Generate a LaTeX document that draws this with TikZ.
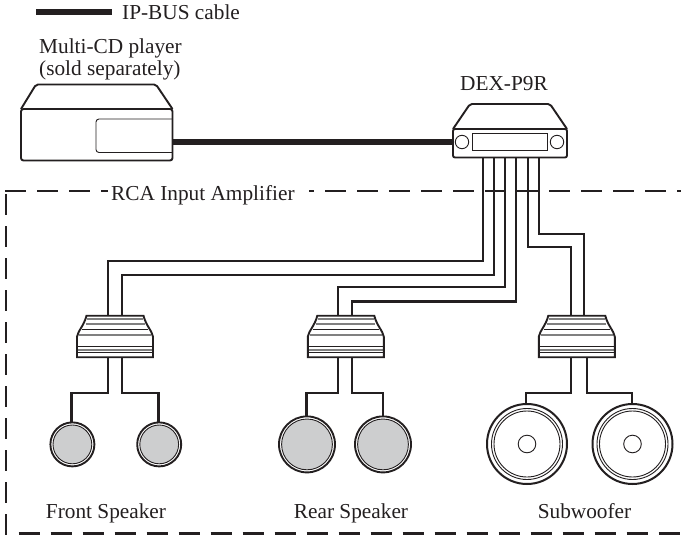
\documentclass[tikz,border=0pt]{standalone}
\usepackage{fontspec}
\setmainfont{Liberation Serif}
\definecolor{ink}{HTML}{231F20}
\definecolor{cone}{HTML}{CDCECF}
\tikzset{
  x=1pt,y=-1pt,
  wire/.style={ink,line width=2.1pt,line join=miter},
  bus/.style={ink,line width=6pt},
  outline/.style={ink,line width=1.9pt,line join=round},
  thin part/.style={ink,line width=0.9pt},
  stripe/.style={black!50,line width=1.5pt},
  stripe dark/.style={ink,line width=0.9pt},
  label/.style={font=\fontsize{21.3}{25}\selectfont,text=ink,inner sep=0pt,anchor=base},
  frame/.style={ink,line width=2pt,dash pattern=on 21pt off 11pt},
  amp/.pic={
    \fill[white] (-28.5,-21) -- (28.5,-21) .. controls (31,-11) and (37,-6) .. (38,0) -- (38,20.5) -- (-38,20.5) -- (-38,0) .. controls (-37,-6) and (-31,-11) .. (-28.5,-21) -- cycle;
    \draw[stripe] (-28,-17.7) -- (28,-17.7);
    \draw[stripe] (-29.5,-12.7) -- (29.5,-12.7);
    \draw[stripe dark] (-33,-7.3) -- (33,-7.3);
    \draw[stripe] (-36,-1.7) -- (36,-1.7);
    \draw[stripe dark] (-37.5,9.3) -- (37.5,9.3);
    \draw[stripe] (-37.5,13.3) -- (37.5,13.3);
    \draw[stripe dark] (-37.5,16) -- (37.5,16);
    \draw[outline,line join=miter] (-28.5,-21) -- (28.5,-21) .. controls (31,-11) and (37,-6) .. (38,0) -- (38,20.5) -- (-38,20.5) -- (-38,0) .. controls (-37,-6) and (-31,-11) .. (-28.5,-21) -- cycle;
  },
}
\begin{document}
\begin{tikzpicture}
\useasboundingbox (0,0) rectangle (681,536);
% dashed frame
\draw[frame] (5,191) -- (681,191);
\draw[frame] (6,194) -- (6,536);
\draw[frame,line width=2.6pt] (18.5,533.5) -- (681,533.5);
\fill[white] (107.5,186) rectangle (309,196);
% labels
\node[label,anchor=base west] (rca) at (111,200) {RCA Input Amplifier};
\coordinate (legA) at (36,12.3);
\coordinate (legB) at (112,12.3);
\draw[bus] (legA) -- (legB);
\node[label,anchor=base west] (legend) at (122,19.3) {IP-BUS cable};
\node[label,anchor=base west] (cdname1) at (39,53.5) {Multi-CD player};
\node[label,anchor=base west] (cdname2) at (39,75.5) {(sold separately)};
\node[label] (dexname) at (504,90.7) {DEX-P9R};
\node[label] (front) at (106,518.3) {Front Speaker};
\node[label] (rear) at (351,518.3) {Rear Speaker};
\node[label] (subw) at (584.5,518.3) {Subwoofer};
% multi-CD player
\draw[outline,rounded corners=2pt] (21,109) -- (36,84.5) -- (156,84.5) -- (172.5,109);
\draw[outline,rounded corners=2.5pt] (21,109) -- (172.5,109) -- (172.5,160.5) -- (21,160.5) -- cycle;
\draw[thin part,rounded corners=3pt] (172.5,119) -- (96,119) -- (96,152.5) -- (172.5,152.5);
\coordinate (cdport) at (173,142);
% head unit
\draw[outline,rounded corners=2pt] (453,129) -- (470,104) -- (550,104) -- (567,129);
\draw[outline,fill=white,rounded corners=2pt] (453,129) -- (567,129) -- (567,157.5) -- (453,157.5) -- cycle;
\draw[thin part] (472,133) rectangle (547,150);
\draw[thin part] (462,142) circle[radius=6.7];
\draw[thin part] (557,142) circle[radius=6.7];
\coordinate (dexport) at (453,142);
\draw[bus] (cdport) -- (dexport);
% wires from the head unit
\coordinate (d1) at (482.7,157.5);
\coordinate (d2) at (494,157.5);
\coordinate (d3) at (504.7,157.5);
\coordinate (d4) at (516,157.5);
\coordinate (d5) at (528,157.5);
\coordinate (d6) at (538.7,157.5);
\draw[wire] (d1) -- (482.7,260.7) -- (108.3,260.7) -- (108.3,316);
\draw[wire] (d2) -- (494,275) -- (121.7,275) -- (121.7,316);
\draw[wire] (d3) -- (504.7,287.3) -- (338.3,287.3) -- (338.3,316);
\draw[wire] (d4) -- (516,301.5) -- (351.7,301.5) -- (351.7,316);
\draw[wire] (d5) -- (528,246.7) -- (570.7,246.7) -- (570.7,316);
\draw[wire] (d6) -- (538.7,234) -- (584.3,234) -- (584.3,316);
% amplifiers
\pic at (115,336.7) {amp};
\pic at (345.8,336.7) {amp};
\pic at (576.8,336.7) {amp};
% wires to speakers
\draw[wire] (108.3,357) -- (108.3,393.3) -- (71.5,393.3) -- (71.5,423);
\draw[wire] (121.7,357) -- (121.7,393.3) -- (158.5,393.3) -- (158.5,423);
\draw[wire] (338.3,357) -- (338.3,393.3) -- (306.5,393.3) -- (306.5,417);
\draw[wire] (351.7,357) -- (351.7,393.3) -- (383.3,393.3) -- (383.3,417);
\draw[wire] (570.7,357) -- (570.7,392.7) -- (525.7,392.7) -- (525.7,404);
\draw[wire] (587.3,357) -- (587.3,392.7) -- (631.7,392.7) -- (631.7,404);
% speakers
\foreach \cx/\r in {72.4/22,159.2/22,307/28,383/28}{
  \draw[outline,fill=white] (\cx,444.4) circle[radius=\r];
  \draw[thin part,fill=cone] (\cx,444.4) circle[radius=\r-2.6];
}
\foreach \cx in {527,632.5}{
  \draw[outline,line width=2pt,fill=white] (\cx,444) circle[radius=40];
  \draw[thin part] (\cx,444) circle[radius=35.5];
  \draw[thin part] (\cx,444) circle[radius=33];
  \draw[thin part] (\cx,444) circle[radius=8.8];
}
\end{tikzpicture}
\end{document}
